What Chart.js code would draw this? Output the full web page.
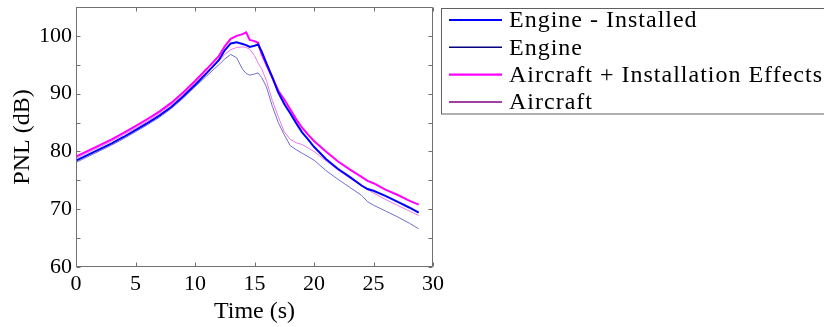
<!DOCTYPE html>
<html><head><meta charset="utf-8">
<script src="https://cdn.jsdelivr.net/npm/chart.js@4"></script>
<style>html,body{margin:0;padding:0;background:#fff;}#wrap{width:824px;height:327px;}</style>
</head><body><div id="wrap"><canvas id="c" width="824" height="327"></canvas></div>
<script>
const times = [0,1,2,3,4,5,6,7,8,9,10,11,12,12.5,13,13.5,14,14.3,14.6,15,15.3,15.6,16,16.5,17,17.5,18,18.5,19,19.5,20,21,22,23,24,24.5,25,26,27,28,28.8];
const engineInstalled = [78.4,79.4,80.4,81.4,82.5,83.7,84.9,86.2,87.7,89.5,91.5,93.6,95.8,97.5,98.7,98.9,98.6,98.4,98.1,98.3,98.5,97.3,95.3,92.8,90.2,88.2,86.6,84.9,83.3,82.1,80.8,78.7,77.0,75.6,74.1,73.5,73.2,72.3,71.3,70.3,69.4];
const engine = [78.1,79.1,80.1,81.1,82.2,83.4,84.6,85.9,87.4,89.2,91.2,93.1,95.0,96.0,96.8,96.2,94.2,93.5,93.2,93.4,93.6,92.8,91.2,87.8,85.0,82.9,81.0,80.3,79.7,79.1,78.5,76.7,75.2,73.8,72.4,71.3,70.7,69.7,68.7,67.6,66.6];
const aircraftInstall = [79.1,80.1,81.1,82.1,83.2,84.4,85.6,86.9,88.4,90.2,92.2,94.3,96.5,98.2,99.5,100.0,100.3,100.6,99.3,99.1,98.8,96.9,95.0,92.8,90.5,89.0,87.3,85.6,84.1,82.9,81.8,80.0,78.3,76.9,75.6,74.9,74.5,73.4,72.5,71.5,70.8];
const aircraft = [78.8,79.8,80.8,81.8,82.9,84.0,85.2,86.6,88.1,89.8,91.8,93.8,95.6,96.8,97.6,98.0,98.1,98.0,97.7,96.6,95.3,94.3,92.3,88.8,86.0,83.4,82.1,81.5,81.2,80.6,80.0,78.4,76.8,75.4,74.0,73.4,72.8,71.7,70.7,69.7,68.9];
const seriesLabels = ['Engine - Installed','Engine','Aircraft + Installation Effects','Aircraft'];
const xTicks = [0,5,10,15,20,25,30];
const yTicks = [60,70,80,90,100];
const xTickMarks = [0,5,10,15,20,25,30];
const yTickMarks = [60,65,70,75,80,85,90,95,100,105];

const FONT = "'Liberation Serif', 'Times New Roman', serif";
const lineColors = ['#0000ff','#6e6ed2','#ff00ff','#ec78ec'];
const lineWidths = [2,1,2,1];
const legendColors = ['#0000ff','#000080','#ff00ff','#800080'];
const legendWidths = [2.2,1.4,2.2,1.4];
const allSeries = [engineInstalled, engine, aircraftInstall, aircraft];

const framePlugin = {
  id:'frame',
  afterDatasetsDraw(chart){
    const {ctx, chartArea:a, scales:{x,y}} = chart;
    ctx.save();
    ctx.strokeStyle='#707070'; ctx.lineWidth=1;
    const L=Math.round(a.left)+0.5, R=Math.round(a.right)-0.5, T=Math.round(a.top)+0.5, B=Math.round(a.bottom)-0.5;
    ctx.beginPath();
    ctx.rect(L,T,R-L,B-T);
    const tl=4;
    xTickMarks.forEach(v=>{
      const px=Math.round(x.getPixelForValue(v))+0.5;
      ctx.moveTo(px,B); ctx.lineTo(px,B-tl);
      ctx.moveTo(px,T); ctx.lineTo(px,T+tl);
    });
    yTickMarks.forEach(v=>{
      const py=Math.round(y.getPixelForValue(v))+0.5;
      ctx.moveTo(L,py); ctx.lineTo(L+tl,py);
      ctx.moveTo(R,py); ctx.lineTo(R-tl,py);
    });
    ctx.stroke();
    ctx.restore();
  },
  afterDraw(chart){
    const ctx=chart.ctx;
    ctx.save();
    ctx.strokeStyle='#606060'; ctx.lineWidth=1;
    ctx.strokeRect(441.5,8.5,400,105.5);
    const rows=[20,47.3,74.7,102];
    ctx.font="24px "+FONT;
    ctx.letterSpacing='1px';
    ctx.textBaseline='middle';
    ctx.fillStyle='#000';
    seriesLabels.forEach((lab,i)=>{
      ctx.beginPath();
      ctx.strokeStyle=legendColors[i]; ctx.lineWidth=legendWidths[i];
      ctx.moveTo(449,rows[i]); ctx.lineTo(502,rows[i]); ctx.stroke();
      ctx.fillText(lab,509,rows[i]+1);
    });
    ctx.restore();
  }
};

new Chart(document.getElementById('c'),{
  type:'line',
  data:{datasets: seriesLabels.map((lab,i)=>({
    label:lab,
    data: times.map((t,k)=>({x:t,y:allSeries[i][k]})),
    borderColor:lineColors[i], borderWidth:lineWidths[i],
    pointRadius:0, tension:0, fill:false
  }))},
  options:{
    responsive:false, animation:false, devicePixelRatio:1,
    layout:{padding:{left:0,top:7,right:391,bottom:0}},
    plugins:{legend:{display:false}, tooltip:{enabled:false}},
    scales:{
      x:{type:'linear',min:0,max:30,
        afterBuildTicks:s=>{s.ticks=xTicks.map(v=>({value:v}));},
        afterFit:s=>{s.height=60; s.paddingLeft=0; s.paddingRight=0;},
        grid:{display:false,drawTicks:false}, border:{display:false},
        ticks:{color:'#000',font:{family:FONT,size:22},padding:4,maxRotation:0},
        title:{display:true,text:'Time (s)',color:'#000',font:{family:FONT,size:24,lineHeight:1.2},padding:{top:0,bottom:1}}
      },
      y:{type:'linear',min:60,max:105,
        afterBuildTicks:s=>{s.ticks=yTicks.map(v=>({value:v}));},
        afterFit:s=>{s.width=76; s.paddingTop=0; s.paddingBottom=0;},
        grid:{display:false,drawTicks:false}, border:{display:false},
        ticks:{color:'#000',font:{family:FONT,size:22},padding:4},
        title:{display:true,text:'PNL (dB)',color:'#000',font:{family:FONT,size:24,lineHeight:1.2},padding:{top:8,bottom:0}}
      }
    }
  },
  plugins:[framePlugin]
});
</script></body></html>
